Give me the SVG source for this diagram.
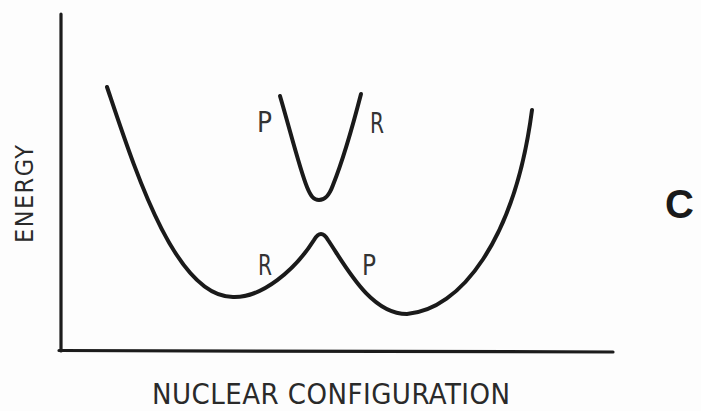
<svg xmlns="http://www.w3.org/2000/svg" width="701" height="411" viewBox="0 0 701 411">
<style>
.ax{stroke:#1c1c1c;stroke-width:3.2;fill:none;stroke-linecap:round}
.cv{stroke:#1a1a1a;stroke-width:4;fill:none;stroke-linecap:round;stroke-linejoin:round}
.lb{font-family:"DejaVu Sans Condensed","DejaVu Sans","Liberation Sans",sans-serif;font-stretch:condensed;fill:#333;font-size:28px}
.ttl{font-family:"DejaVu Sans Condensed","DejaVu Sans","Liberation Sans",sans-serif;font-stretch:condensed;fill:#2a2a2a}
</style>
<rect width="701" height="411" fill="#fdfdfd"/>
<g id="axes">
<line class="ax" x1="61" y1="14" x2="61" y2="351"/>
<line class="ax" x1="59" y1="350.5" x2="613" y2="352"/>
</g>
<g id="curves">
<path id="lower" class="cv" d="M107,87 C135,170 175,297 233,297 C262,298 295,270 314,240 Q321,228 328,240 C345,265 370,314 407,314 C460,310 515,240 532,110"/>
<path id="upper" class="cv" d="M280,96 C290,130 300,170 307,187 C311,197 314,200 319,200 C325,200 329,196 333,185 C343,160 353,125 361,94"/>
</g>
<g id="labels">
<text class="lb" x="257" y="132" textLength="15" lengthAdjust="spacingAndGlyphs">P</text>
<text class="lb" x="370" y="133" textLength="14" lengthAdjust="spacingAndGlyphs">R</text>
<text class="lb" x="258" y="275" textLength="14" lengthAdjust="spacingAndGlyphs">R</text>
<text class="lb" x="362" y="275" textLength="14" lengthAdjust="spacingAndGlyphs">P</text>
</g>
<g id="axis-titles">
<text class="ttl" x="152" y="404" font-size="29" textLength="358" lengthAdjust="spacing">NUCLEAR CONFIGURATION</text>
<text class="ttl" transform="translate(33,243) rotate(-90)" font-size="25" textLength="98" lengthAdjust="spacing">ENERGY</text>
</g>
<g id="panel-label">
<text x="665" y="218" font-family="'Liberation Sans',Arial,sans-serif" font-weight="bold" font-size="40" fill="#1a1a1a">C</text>
</g>
</svg>
